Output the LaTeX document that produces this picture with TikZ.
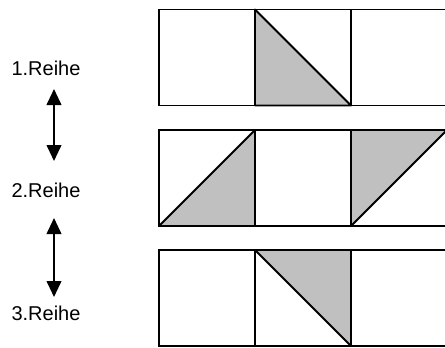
\documentclass[tikz,border=0pt]{standalone}
\usepackage{fontspec}
\setmainfont{Liberation Sans}
\usetikzlibrary{arrows.meta,positioning}
\definecolor{Tile}{HTML}{C0C0C0}

\begin{document}
\begin{tikzpicture}[x=0.75pt,y=-0.75pt,
    every node/.style={font=\fontsize{15}{18}\selectfont, align=center},
    cell/.style={draw,line width=1.4pt,minimum width=72pt,minimum height=72pt,outer sep=0pt,inner sep=0pt},
    half/.style={fill=Tile,draw,line width=1.4pt,line join=round},
    swap/.style={{Triangle[length=12pt,width=11pt]}-{Triangle[length=12pt,width=11pt]},line width=1.4pt}]
  \useasboundingbox (0,0) rectangle (445,347);
  \clip (0,0) rectangle (445,347);

  % row labels
  \node (r1) at (46,68) {1.Reihe};
  \node (r2) at (46,190) {2.Reihe};
  \node (r3) at (46,313) {3.Reihe};

  % tiles, three per row
  \foreach \row/\y in {1/57.5,2/178,3/298}
    \foreach \col/\x in {1/207,2/303,3/399}
      \node[cell] (c\row\col) at (\x,\y) {};

  % grey halves
  \draw[half] (c12.north west) -- (c12.south west) -- (c12.south east) -- cycle;
  \draw[half] (c21.south west) -- (c21.north east) -- (c21.south east) -- cycle;
  \draw[half] (c23.north west) -- (c23.north east) -- (c23.south west) -- cycle;
  \draw[half] (c32.north west) -- (c32.north east) -- (c32.south east) -- cycle;

  % swaps between rows
  \coordinate (a1) at (54,89);
  \coordinate (b1) at (54,161);
  \coordinate (a2) at (54,218);
  \coordinate (b2) at (54,297);
  \foreach \s/\t in {a1/b1,a2/b2}
    \draw[swap] (\s) -- (\t);
\end{tikzpicture}
\end{document}
